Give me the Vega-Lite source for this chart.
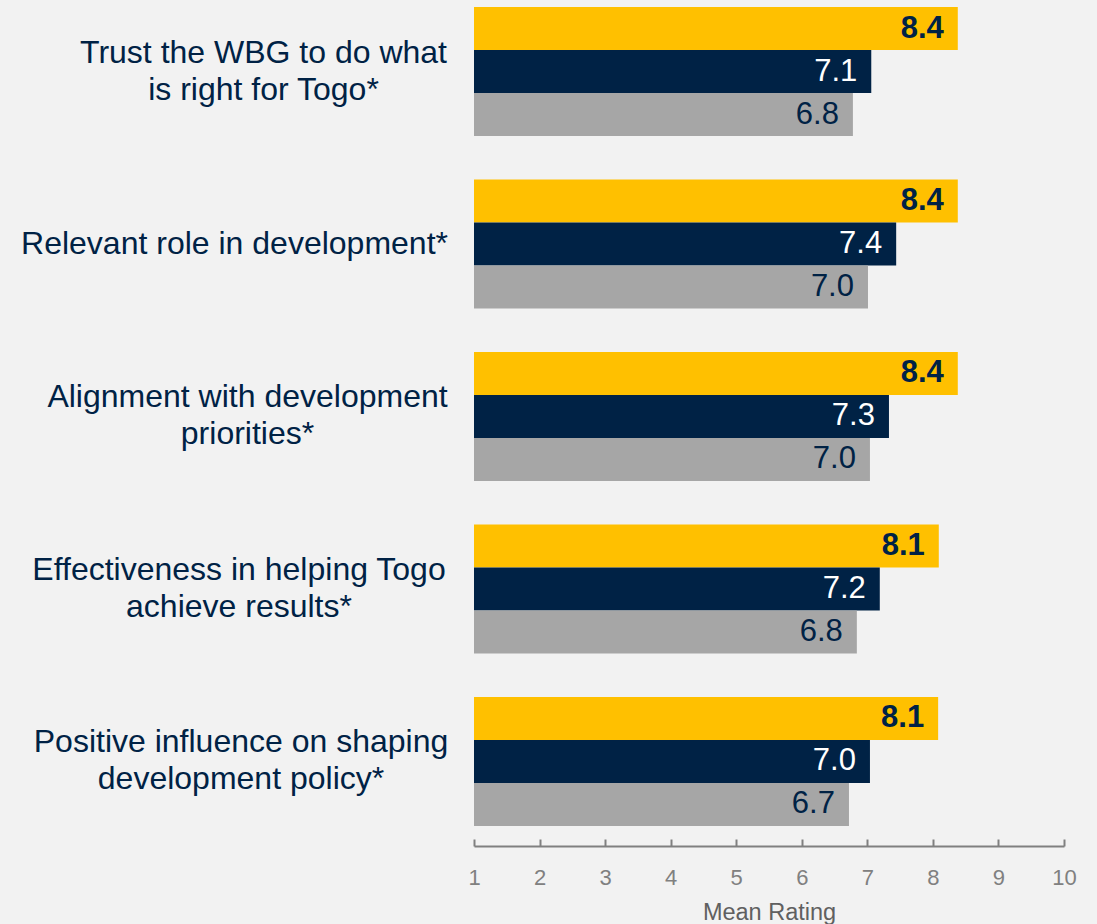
{
  "$schema": "https://vega.github.io/schema/vega-lite/v6.json",
  "autosize": {"type": "none"},
  "width": 590,
  "height": 846,
  "padding": {"left": 474, "top": 0, "right": 33, "bottom": 78},
  "background": "#f2f2f2",
  "config": {
    "view": {"stroke": null},
    "font": "Liberation Sans"
  },
  "data": {
    "values": [
      {"category": "Trust the WBG to do what|is right for Togo*", "series": "S1", "value": 8.38},
      {"category": "Trust the WBG to do what|is right for Togo*", "series": "S2", "value": 7.06},
      {"category": "Trust the WBG to do what|is right for Togo*", "series": "S3", "value": 6.78},
      {"category": "Relevant role in development*", "series": "S1", "value": 8.38},
      {"category": "Relevant role in development*", "series": "S2", "value": 7.44},
      {"category": "Relevant role in development*", "series": "S3", "value": 7.01},
      {"category": "Alignment with development|priorities*", "series": "S1", "value": 8.38},
      {"category": "Alignment with development|priorities*", "series": "S2", "value": 7.33},
      {"category": "Alignment with development|priorities*", "series": "S3", "value": 7.04},
      {"category": "Effectiveness in helping Togo|achieve results*", "series": "S1", "value": 8.09},
      {"category": "Effectiveness in helping Togo|achieve results*", "series": "S2", "value": 7.19},
      {"category": "Effectiveness in helping Togo|achieve results*", "series": "S3", "value": 6.84},
      {"category": "Positive influence on shaping|development policy*", "series": "S1", "value": 8.08},
      {"category": "Positive influence on shaping|development policy*", "series": "S2", "value": 7.04},
      {"category": "Positive influence on shaping|development policy*", "series": "S3", "value": 6.72}
    ]
  },
  "encoding": {
    "y": {
      "field": "category",
      "type": "nominal",
      "sort": null,
      "scale": {"paddingInner": 0.252, "paddingOuter": 0.0783, "align": 0.259},
      "axis": {
        "title": null,
        "domain": false,
        "ticks": false,
        "labelExpr": "split(datum.label, '|')",
        "labelFontSize": 32,
        "labelColor": "#002245",
        "labelFont": "Liberation Sans",
        "labelAlign": "center",
        "labelBaseline": "middle",
        "labelLineHeight": 37,
        "labelLimit": 600,
        "labelOffset": {
          "condition": {"test": "indexof(datum.value, '|') >= 0", "value": -19},
          "value": 0
        },
        "labelPadding": {
          "condition": [
            {"test": "indexof(datum.value, 'Trust') === 0", "value": 211},
            {"test": "indexof(datum.value, 'Relevant') === 0", "value": 240},
            {"test": "indexof(datum.value, 'Alignment') === 0", "value": 227},
            {"test": "indexof(datum.value, 'Effectiveness') === 0", "value": 235.5}
          ],
          "value": 233.5
        }
      }
    },
    "yOffset": {
      "field": "series",
      "type": "nominal",
      "sort": ["S1", "S2", "S3"],
      "scale": {"paddingInner": 0, "paddingOuter": 0}
    }
  },
  "layer": [
    {
      "mark": {"type": "bar"},
      "encoding": {
        "x": {
          "field": "value",
          "type": "quantitative",
          "scale": {"domain": [1, 10], "zero": false, "nice": false},
          "axis": {
            "values": [1, 2, 3, 4, 5, 6, 7, 8, 9, 10],
            "format": "d",
            "grid": false,
            "title": "Mean Rating",
            "titleFontSize": 23.5,
            "titleFontWeight": "normal",
            "titleColor": "#606060",
            "titlePadding": 12,
            "labelFontSize": 22,
            "labelColor": "#808080",
            "labelPadding": 28,
            "labelFlush": false,
            "domainColor": "#808080",
            "domainWidth": 2,
            "tickColor": "#808080",
            "tickWidth": 2,
            "tickSize": -7
          }
        },
        "x2": {"datum": 1},
        "color": {
          "field": "series",
          "type": "nominal",
          "scale": {"domain": ["S1", "S2", "S3"], "range": ["#ffc000", "#002245", "#a6a6a6"]},
          "legend": null
        }
      }
    },
    {
      "transform": [{"filter": "datum.series === 'S1'"}],
      "mark": {"type": "text", "align": "right", "baseline": "middle", "dx": -14, "fontSize": 31, "fontWeight": "bold", "color": "#002245"},
      "encoding": {
        "x": {"field": "value", "type": "quantitative"},
        "text": {"field": "value", "type": "quantitative", "format": ".1f"}
      }
    },
    {
      "transform": [{"filter": "datum.series !== 'S1'"}],
      "mark": {"type": "text", "align": "right", "baseline": "middle", "dx": -14, "fontSize": 31},
      "encoding": {
        "x": {"field": "value", "type": "quantitative"},
        "text": {"field": "value", "type": "quantitative", "format": ".1f"},
        "color": {
          "condition": {"test": "datum.series === 'S2'", "value": "#ffffff"},
          "value": "#002245"
        }
      }
    }
  ]
}
